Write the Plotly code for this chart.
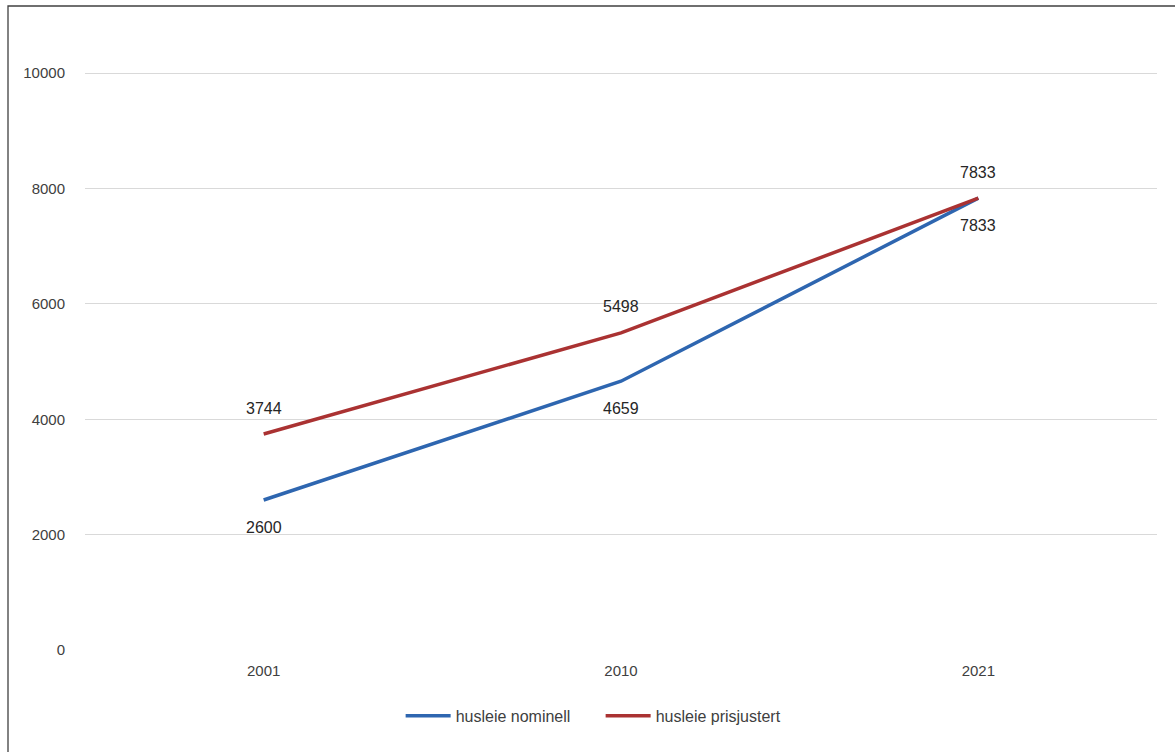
import plotly.graph_objects as go

years = ["2001", "2010", "2021"]
nominell = [2600, 4659, 7833]
prisjustert = [3744, 5498, 7833]
y_ticks = [0, 2000, 4000, 6000, 8000, 10000]

FONT = "Liberation Sans, Arial"
BLUE = "#2E66B0"
RED = "#AA3232"

fig = go.Figure()
fig.add_trace(go.Scatter(
    x=years, y=nominell, mode="lines", name="husleie nominell",
    line=dict(color=BLUE, width=3.5),
))
fig.add_trace(go.Scatter(
    x=years, y=prisjustert, mode="lines", name="husleie prisjustert",
    line=dict(color=RED, width=3.5),
))

for i, yv in enumerate(nominell):
    fig.add_annotation(x=i, y=yv, xref="x", yref="y", text=str(yv), showarrow=False,
                       yshift=-27, font=dict(size=16, color="#262626", family=FONT))
for i, yv in enumerate(prisjustert):
    fig.add_annotation(x=i, y=yv, xref="x", yref="y", text=str(yv), showarrow=False,
                       yshift=26, font=dict(size=16, color="#262626", family=FONT))

fig.update_layout(
    width=1175, height=752,
    margin=dict(l=85, r=18, t=72, b=102),
    paper_bgcolor="white", plot_bgcolor="white",
    font=dict(family=FONT, size=15, color="#404040"),
    xaxis=dict(type="category", range=[-0.5, 2.5], showgrid=False, zeroline=False,
               showline=False, ticks="", tickfont=dict(size=15, color="#404040"),
               ticklabelstandoff=10),
    yaxis=dict(range=[0, 10020], tickvals=y_ticks, tickformat="d", showgrid=True,
               gridcolor="#D9D9D9", gridwidth=1.3, zeroline=False, showline=False,
               ticks="", tickfont=dict(size=15, color="#404040"), ticklabelstandoff=19),
    legend=dict(orientation="h", x=0.481, xanchor="center", y=-0.114, yanchor="middle",
                font=dict(size=16, color="#404040"), itemwidth=45, entrywidth=140),
    showlegend=True,
)
fig.add_shape(type="rect", xref="paper", yref="paper",
              x0=(8 - 85) / 1072, x1=1.2, y0=-0.3, y1=(650 - 6) / 578,
              line=dict(color="#404040", width=1.3), fillcolor="rgba(0,0,0,0)", layer="below")

fig.write_html("out.html")
